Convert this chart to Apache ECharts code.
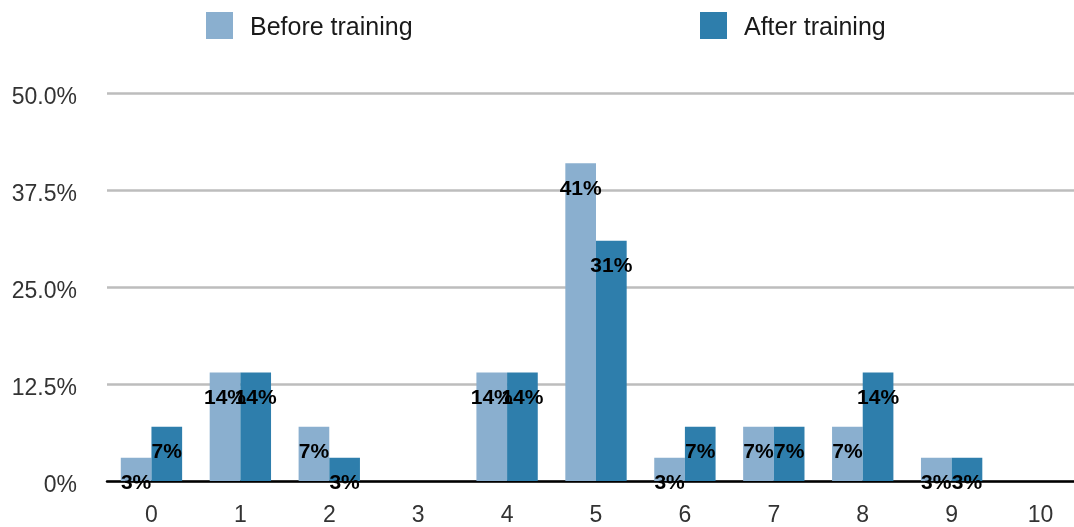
<!DOCTYPE html>
<html>
<head>
<meta charset="utf-8">
<script src="https://cdn.jsdelivr.net/npm/echarts@6/dist/echarts.min.js"></script>
<style>
  html, body { margin: 0; padding: 0; background: #fff; overflow: hidden; }
  /* the plot area continues a little past the right edge of the window */
  #chart { width: 1085px; height: 527px; }
</style>
</head>
<body>
<div id="chart"></div>
<script>
// Score categories on the x axis
const categories = ['0', '1', '2', '3', '4', '5', '6', '7', '8', '9', '10'];
// Share of participants per score (percent)
const beforeTraining = [3, 14, 7, 0, 14, 41, 3, 7, 7, 3, 0];
const afterTraining = [7, 14, 3, 0, 14, 31, 7, 7, 14, 3, 0];
// Y axis ticks
const yTicks = [0, 12.5, 25, 37.5, 50];

const seriesNames = ['Before training', 'After training'];
const colors = ['#8aafcf', '#2e7eac'];
const fontFamily = '"Liberation Sans", Arial, Helvetica, sans-serif';

const chart = echarts.init(document.getElementById('chart'));

const label = {
  show: true,
  position: 'insideTop',
  distance: 15,
  color: '#000',
  fontFamily: fontFamily,
  fontWeight: 'bold',
  fontSize: 21,
  formatter: p => (p.value > 0 ? p.value + '%' : '')
};

const legendText = {
  fontFamily: fontFamily, fontSize: 25, color: '#1a1a1a',
  rich: { t: { fontFamily: fontFamily, fontSize: 25, color: '#1a1a1a', padding: [6, 0, 0, 12] } }
};

chart.setOption({
  animation: false,
  color: colors,
  legend: [
    {
      data: [seriesNames[0]],
      left: 206, top: 12, padding: 0,
      itemWidth: 27, itemHeight: 27,
      icon: 'rect',
      formatter: name => '{t|' + name + '}',
      textStyle: legendText
    },
    {
      data: [seriesNames[1]],
      left: 700, top: 12, padding: 0,
      itemWidth: 27, itemHeight: 27,
      icon: 'rect',
      formatter: name => '{t|' + name + '}',
      textStyle: legendText
    }
  ],
  grid: { left: 107, right: 0, top: 93.5, bottom: 45, containLabel: false },
  xAxis: {
    type: 'category',
    data: categories,
    axisLine: { show: true, lineStyle: { color: '#000', width: 2.5 } },
    axisTick: { show: false },
    axisLabel: { margin: 23, fontFamily: fontFamily, fontSize: 23, color: '#333' },
    splitLine: { show: false }
  },
  yAxis: {
    type: 'value',
    min: yTicks[0],
    max: yTicks[yTicks.length - 1],
    interval: yTicks[1] - yTicks[0],
    axisLine: { show: false },
    axisTick: { show: false },
    axisLabel: {
      margin: 30,
      fontFamily: fontFamily,
      fontSize: 23,
      color: '#333',
      formatter: v => '{v|' + (v === 0 ? '0%' : v.toFixed(1) + '%') + '}',
      rich: { v: { fontFamily: fontFamily, fontSize: 23, color: '#333', padding: [9, 0, 0, 0] } }
    },
    splitLine: { show: true, lineStyle: { color: '#bdbdbd', width: 2.5 } }
  },
  series: [
    {
      name: seriesNames[0],
      type: 'bar',
      data: beforeTraining,
      barGap: '0%',
      barCategoryGap: '31%',
      label: label
    },
    {
      name: seriesNames[1],
      type: 'bar',
      data: afterTraining,
      barGap: '0%',
      barCategoryGap: '31%',
      label: label
    }
  ]
});
</script>
</body>
</html>
